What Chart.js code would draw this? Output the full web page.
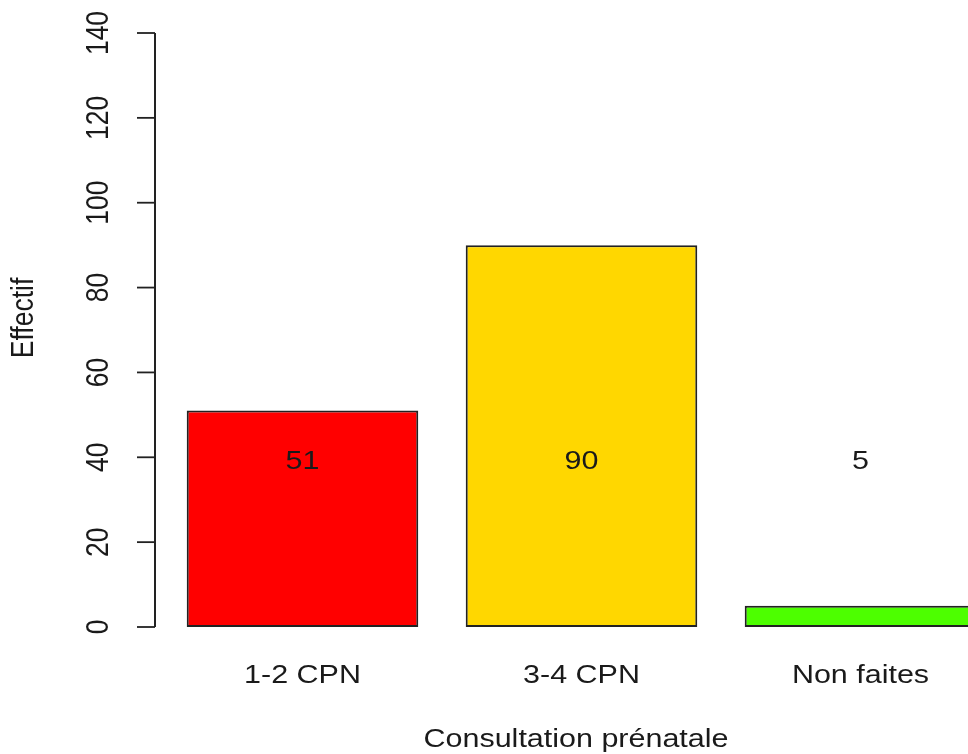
<!DOCTYPE html>
<html lang="fr">
<head>
  <meta charset="UTF-8" />
  <title>Consultation prénatale</title>
  <script src="https://cdn.jsdelivr.net/npm/chart.js"></script>
  <style>
    html, body { margin: 0; padding: 0; background: #fff; overflow: hidden; }
    #wrap { width: 1010px; height: 754px; }
  </style>
</head>
<body>
  <div id="wrap"><canvas id="barChart" width="1010" height="754"></canvas></div>

  <script>
    const categories = ['1-2 CPN', '3-4 CPN', 'Non faites'];
    const counts = [51, 90, 5];
    const barColors = ['#FF0000', '#FFD700', '#4DFF00'];
    const yTicks = [0, 20, 40, 60, 80, 100, 120, 140];
    const xTitle = 'Consultation prénatale';
    const yTitle = 'Effectif';
    const labelLevel = 39; // height at which the counts are written

    const FONT = '26.5px "Liberation Sans", Arial, sans-serif';
    const SX = 1.15; // the reference text is a little wider than tall
    const INK = '#1a1a1a';

    function stretchedText(ctx, txt, x, y, rotate, baseline) {
      ctx.save();
      ctx.translate(x, y);
      ctx.scale(SX, 1);
      if (rotate) ctx.rotate(-Math.PI / 2);
      ctx.font = FONT;
      ctx.fillStyle = INK;
      ctx.textAlign = 'center';
      ctx.textBaseline = baseline || 'middle';
      ctx.fillText(txt, 0, 0);
      ctx.restore();
    }

    // R-style axis, labels and counts
    const rAxes = {
      id: 'rAxes',
      afterDatasetsDraw(chart) {
        const ctx = chart.ctx;
        const y = chart.scales.y;
        const x = chart.scales.x;
        const axisX = chart.chartArea.left - 8;

        ctx.save();
        ctx.strokeStyle = '#222';
        ctx.lineWidth = 2;
        ctx.beginPath();
        ctx.moveTo(axisX, y.getPixelForValue(yTicks[0]));
        ctx.lineTo(axisX, y.getPixelForValue(yTicks[yTicks.length - 1]));
        ctx.stroke();
        ctx.lineWidth = 1.8;
        yTicks.forEach(v => {
          const py = y.getPixelForValue(v);
          ctx.beginPath();
          ctx.moveTo(axisX, py);
          ctx.lineTo(axisX - 18, py);
          ctx.stroke();
          stretchedText(ctx, String(v), axisX - 55, py, true);
        });
        ctx.restore();

        stretchedText(ctx, yTitle, 25, 318, true);

        const meta = chart.getDatasetMeta(0);
        categories.forEach((c, i) => {
          const px = x.getPixelForValue(i);
          stretchedText(ctx, c, px, 683, false, 'alphabetic');
          stretchedText(ctx, String(counts[i]), meta.data[i].x, y.getPixelForValue(labelLevel), false);
        });

        stretchedText(ctx, xTitle, 576, 747, false, 'alphabetic');
      }
    };

    new Chart(document.getElementById('barChart'), {
      type: 'bar',
      data: {
        labels: categories,
        datasets: [{
          data: counts,
          backgroundColor: barColors,
          borderColor: '#222',
          borderWidth: 2,
          borderSkipped: false,
          categoryPercentage: 1,
          barPercentage: 0.83
        }]
      },
      options: {
        responsive: false,
        animation: false,
        devicePixelRatio: 1,
        layout: { padding: { left: 163, right: 10, top: 33, bottom: 127 } },
        plugins: { legend: { display: false }, tooltip: { enabled: false } },
        scales: {
          x: { display: false },
          y: {
            display: false,
            min: 0,
            max: 140,
            afterBuildTicks(scale) { scale.ticks = yTicks.map(v => ({ value: v })); }
          }
        }
      },
      plugins: [rAxes]
    });
  </script>
</body>
</html>
